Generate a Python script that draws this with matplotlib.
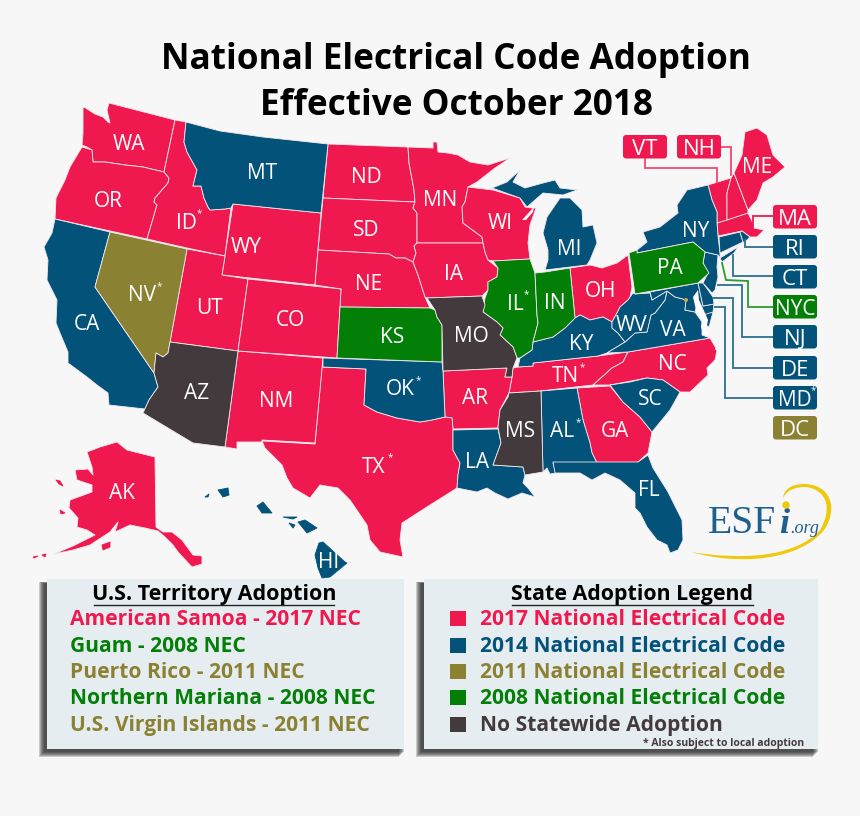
import matplotlib
matplotlib.use("Agg")
import matplotlib.pyplot as plt
from matplotlib.patches import Polygon, FancyBboxPatch, Rectangle, PathPatch, Circle
from matplotlib.path import Path

RED = "#f0194f"
BLUE = "#03527a"
OLIVE = "#8b8133"
GREEN = "#037f07"
DARK = "#433a3d"
BG = "#f7f7f7"
PANEL = "#e6edf1"

# outlines, in image pixels
WA = [(83,108),(84,107),(95,114),(103,117),(108,122),(110,123),(107,110),(109,103),(175,120),(164,172),(143,167),(125,165),(105,162),(93,162),(92,150),(87,147),(82,145),(83,133),(83,115)]
OR = [(82,147),(92,150),(93,162),(105,162),(125,165),(143,167),(164,172),(169,178),(168,183),(155,198),(154,202),(157,205),(147,239),(55,219),(56,198),(65,180),(70,167)]
ID = [(175,120),(186,122),(184,142),(187,152),(197,170),(193,186),(201,186),(204,198),(208,207),(210,210),(225,209),(231,208),(225,256),(187,248),(147,239),(157,205),(154,202),(155,198),(168,183),(169,178),(164,172)]
MT = [(186,122),(220,131),(263,137),(300,141),(328,144),(321,213),(233,204),(231,208),(225,209),(210,210),(208,207),(204,198),(201,186),(193,186),(197,170),(187,152),(184,142)]
ND = [(328,144),(408,147),(409,163),(414,190),(415,202),(323,198)]
SD = [(323,198),(415,202),(413,208),(417,213),(417,243),(414,246),(416,253),(413,262),(405,258),(396,258),(389,254),(318,250)]
WY = [(233,204),(321,213),(315,285),(222,275)]
NE = [(318,250),(389,254),(396,258),(405,258),(413,262),(418,275),(425,297),(430,308),(340,307),(341,289),(315,285)]
KS = [(340,307),(430,308),(435,310),(437,317),(442,325),(442,362),(337,358)]
MO = [(427,298),(482,296),(485,305),(483,312),(497,322),(503,328),(500,335),(513,347),(517,358),(513,368),(512,377),(505,377),(507,368),(443,371),(442,325),(437,317),(435,310)]
IA = [(414,246),(417,243),(483,243),(485,252),(488,260),(498,268),(497,277),(488,282),(488,290),(482,296),(427,298),(425,297),(418,275),(413,262),(416,253)]
MN = [(408,147),(433,148),(433,142),(437,142),(438,152),(448,153),(458,155),(470,162),(488,165),(510,158),(495,168),(477,182),(468,187),(465,202),(462,207),(463,223),(482,237),(483,243),(417,243),(417,213),(413,208),(415,202),(414,190),(409,163)]
WI = [(468,187),(493,190),(520,198),(525,207),(532,208),(536,208),(530,225),(528,243),(530,259),(493,261),(488,260),(485,252),(483,243),(482,237),(463,223),(462,207),(465,202)]
GREEN_BAY = [(534,207),(522,220),(526,220),(533,212)]
IL = [(493,261),(530,259),(535,273),(537,315),(538,323),(533,342),(532,350),(520,358),(517,358),(513,347),(500,335),(503,328),(497,322),(483,312),(485,298),(488,290),(488,282),(497,277),(498,268)]
IN = [(535,273),(545,272),(570,268),(575,318),(565,328),(553,337),(533,342),(538,323),(537,315)]
OH = [(570,268),(590,265),(602,268),(617,263),(628,255),(632,287),(630,297),(628,300),(620,307),(617,313),(612,322),(603,317),(590,320),(580,315),(575,318)]
MI_LOWER = [(545,270),(548,260),(548,250),(543,233),(547,217),(560,198),(570,198),(582,210),(583,227),(593,225),(597,243),(590,260),(587,265)]
MI_UPPER = [(492,188),(507,182),(520,170),(513,182),(525,188),(543,183),(555,180),(560,188),(577,190),(563,195),(543,193),(535,200),(527,207),(520,198)]
KY = [(533,342),(553,337),(565,328),(575,318),(580,315),(590,320),(603,317),(612,322),(612,328),(618,333),(625,342),(607,353),(598,356),(533,363),(533,366),(518,367),(520,358),(532,350)]
TN = [(518,367),(533,366),(533,363),(598,356),(628,352),(623,362),(612,368),(593,385),(540,391),(509,393),(512,377),(513,368)]
VA = [(625,342),(635,333),(647,332),(651,315),(655,313),(665,300),(667,291),(675,297),(683,299),(686,300),(685,310),(695,312),(702,322),(702,335),(710,338),(628,352),(607,353)]
VA_TIP = [(705,313),(713,312),(709,327),(706,325)]
WV = [(628,300),(633,293),(635,294),(650,293),(652,300),(667,291),(665,300),(655,313),(651,315),(647,332),(635,333),(625,342),(618,333),(612,328),(612,322),(617,313),(620,307)]
MD = [(650,292),(698,283),(703,306),(714,304),(713,312),(703,315),(697,305),(695,312),(685,310),(686,300),(683,299),(675,297),(667,291),(652,300)]
DE = [(698,283),(703,283),(713,297),(714,304),(703,306)]
NJ = [(705,252),(718,255),(717,267),(718,277),(715,290),(712,293),(703,283),(708,273),(703,263)]
PA = [(629,253),(637,250),(637,253),(693,242),(705,252),(703,263),(709,273),(698,283),(635,294)]
NY = [(637,250),(647,242),(643,232),(660,227),(678,213),(677,205),(687,190),(708,185),(712,200),(717,212),(717,223),(718,236),(720,253),(720,258),(718,255),(705,252),(693,242),(637,253)]
LONG_ISLAND = [(720,258),(738,247),(734,253),(722,262)]
CT = [(719,237),(740,232),(743,242),(720,253)]
RI = [(740,232),(742,231),(750,237),(745,242),(743,242)]
MA = [(717,223),(748,213),(753,223),(754,228),(764,230),(757,237),(750,237),(742,231),(718,236)]
VT = [(708,185),(731,178),(727,193),(727,220),(717,223),(717,212),(712,200)]
NH = [(731,178),(734,173),(748,210),(748,213),(727,220),(727,193)]
ME = [(734,173),(742,155),(745,132),(757,128),(767,135),(773,155),(785,167),(773,177),(763,183),(757,200),(748,210)]
NC = [(710,338),(717,350),(715,360),(707,368),(708,375),(690,392),(680,392),(663,380),(647,378),(610,385),(593,385),(612,368),(623,362),(628,352)]
SC = [(610,385),(630,382),(647,378),(663,380),(680,392),(670,410),(652,432),(640,417),(623,402)]
GA = [(577,388),(610,386),(623,402),(640,417),(652,432),(648,453),(638,462),(637,464),(597,463),(592,453),(590,443),(583,420)]
AL = [(541,391),(577,388),(583,420),(590,443),(592,453),(597,463),(553,463),(556,473),(550,474),(547,468),(543,472)]
MS = [(541,391),(509,393),(508,397),(500,410),(498,427),(501,443),(493,465),(523,467),(525,475),(543,472)]
LA = [(453,430),(498,429),(501,443),(493,465),(523,467),(525,475),(523,483),(528,488),(535,497),(522,493),(508,499),(495,493),(487,488),(477,492),(457,488),(458,475),(460,463),(453,450)]
AR = [(443,371),(507,368),(505,377),(512,377),(509,393),(500,410),(498,428),(453,429),(452,418),(445,417)]
OK = [(323,358),(442,362),(443,371),(445,417),(432,420),(420,422),(397,418),(377,412),(364,405),(366,369),(323,367)]
TX = [(322,367),(366,369),(364,405),(377,412),(397,418),(420,422),(432,420),(445,417),(452,418),(453,429),(453,450),(460,463),(458,475),(457,488),(430,505),(402,523),(400,540),(403,557),(380,552),(370,540),(367,525),(350,500),(338,488),(320,485),(310,498),(293,488),(287,478),(282,465),(265,448),(262,441),(315,444)]
NM = [(238,351),(323,358),(315,443),(262,440),(262,442),(237,442),(237,449),(225,447)]
AZ = [(170,342),(238,351),(225,447),(193,443),(143,413),(149,400),(158,387),(154,373),(156,353),(163,357),(168,353)]
NV = [(110,232),(187,249),(168,353),(163,357),(156,353),(154,373),(95,287)]
CA = [(55,219),(110,232),(95,287),(154,373),(158,387),(149,400),(145,409),(109,405),(108,393),(97,385),(87,377),(68,363),(68,352),(60,333),(56,323),(57,300),(47,280),(48,260),(44,247),(52,233)]
UT = [(187,249),(225,256),(222,275),(248,279),(238,351),(170,342)]
CO = [(248,279),(341,289),(340,307),(337,358),(238,351)]
FL = [(553,462),(638,462),(648,455),(653,468),(668,492),(682,520),(683,540),(678,550),(670,553),(667,545),(657,540),(647,527),(640,513),(635,508),(635,493),(620,480),(605,473),(592,480),(580,473),(555,473)]
AK = [(87,452),(100,447),(117,442),(127,450),(155,457),(156,527),(163,532),(172,532),(182,540),(193,555),(202,556),(202,564),(192,567),(178,552),(173,545),(165,537),(158,531),(145,528),(130,525),(115,532),(118,522),(110,532),(90,545),(73,550),(54,554),(73,546),(95,535),(87,530),(77,527),(78,518),(69,508),(70,500),(92,492),(92,485),(77,480),(75,470),(88,469),(93,475),(92,467)]
AK_KODIAK = [(102,545),(110,542),(110,547),(103,550)]
AK_LAWRENCE = [(56,480),(60,481),(63,486),(59,484)]
AK_NUNIVAK = [(60,510),(65,513),(61,514)]
AK_ALEUT1 = [(33,557),(38,556),(34,558)]
AK_ALEUT2 = [(42,555),(46,554),(45,557)]
HI_NIIHAU = [(205,497),(209,494),(208,497)]
HI_KAUAI = [(218,490),(228,488),(229,495),(223,497)]
HI_OAHU = [(257,506),(263,502),(272,513),(262,513)]
HI_MOLOKAI = [(283,517),(297,517),(293,519)]
HI_LANAI = [(289,523),(295,525),(293,528)]
HI_MAUI = [(298,522),(305,520),(317,528),(307,533)]
HI_BIG = [(319,543),(323,542),(345,562),(347,563),(330,577),(322,578),(318,568),(315,555)]
CHESAPEAKE = [(698,290),(699,300),(705,313),(708,320),(706,330),(708,335),(703,333),(701,327),(702,320),(696,310),(693,297)]
OUTER_BANKS_X = [716,720,718,710]
OUTER_BANKS_Y = [349,352,358,367]

RED_SHAPES = [WA, OR, ID, ND, SD, WY, NE, MN, IA, WI, OH, TN, MA, VT, NH, ME, NC, GA, AR, TX, NM, UT, CO, AK,
              AK_KODIAK, AK_LAWRENCE, AK_NUNIVAK, AK_ALEUT1, AK_ALEUT2]
BLUE_SHAPES = [MT, MI_LOWER, MI_UPPER, KY, VA, VA_TIP, WV, MD, DE, NJ, NY, LONG_ISLAND, CT, RI, SC, AL, LA, OK, CA, FL,
               HI_NIIHAU, HI_KAUAI, HI_OAHU, HI_MOLOKAI, HI_LANAI, HI_MAUI, HI_BIG]
OLIVE_SHAPES = [NV]
GREEN_SHAPES = [KS, IL, IN, PA]
DARK_SHAPES = [MO, MS, AZ]
ISLAND_SHAPES = [AK_KODIAK, AK_LAWRENCE, AK_NUNIVAK, AK_ALEUT1, AK_ALEUT2, HI_NIIHAU, HI_KAUAI, HI_OAHU, HI_MOLOKAI, HI_LANAI, HI_MAUI, HI_BIG]

STATE_NAMES = ["WA","OR","CA","NV","ID","MT","WY","UT","CO","AZ","NM","ND","SD","NE","KS","OK","TX","MN","IA","MO","AR","LA",
               "WI","IL","IN","MI","OH","KY","TN","MS","AL","GA","FL","SC","NC","VA","WV","PA","NY","ME","AK","HI"]
STATE_X = [129,108,87,142,186,262,246,210,290,197,276,366,366,369,392,400,374,440,454,471,475,477,
           500,515,555,569,600,581,565,520,562,615,649,650,672,673,632,670,696,757,122,329]
STATE_Y = [142,199,322,293,221,171,245,306,318,391,399,175,228,282,335,387,465,198,272,334,396,460,
           221,302,301,247,289,342,374,429,429,429,488,397,362,328,323,266,229,165,491,560]
STAR_X = [159,199,418,390,526,582,578]
STAR_Y = [287,214,381,458,295,368,423]

BOX_NAMES = ["VT","NH","MA","RI","CT","NYC","NJ","DE","MD","DC"]
BOX_LEFT = [623,677,773,773,773,773,773,773,773,773]
BOX_TOP = [135,135,205,235,265,295,325,356,386,416]
BOX_COLORS = [RED,RED,RED,BLUE,BLUE,GREEN,BLUE,BLUE,BLUE,OLIVE]
BOX_SIZES = [16,16,16,16,16,15,16,16,15,16]
LEADERS = [
    ([645,645,717,717], [158,168,168,182], "#f0476f"),
    ([721,731,731], [147,147,175], "#f0476f"),
    ([773,753,753], [216,216,227], "#f0194f"),
    ([745,745,773], [240,247,247], "#2c6f92"),
    ([733,733,773], [255,276,276], "#2c6f92"),
    ([722,726,748,748,773], [263,280,281,307,307], "#2f9a2f"),
    ([718,742,742,773], [285,285,337,337], "#2c6f92"),
    ([713,733,733,773], [298,298,368,368], "#2c6f92"),
    ([715,725,725,773], [307,307,398,398], "#2c6f92"),
]

TERRITORY_LINES = ["American Samoa - 2017 NEC","Guam - 2008 NEC","Puerto Rico - 2011 NEC","Northern Mariana - 2008 NEC","U.S. Virgin Islands - 2011 NEC"]
TERRITORY_COLORS = [RED,GREEN,OLIVE,GREEN,OLIVE]
LEGEND_LINES = ["2017 National Electrical Code","2014 National Electrical Code","2011 National Electrical Code","2008 National Electrical Code","No Statewide Adoption"]
LEGEND_COLORS = [RED,BLUE,OLIVE,GREEN,DARK]
LINE_BASE = [625,652,678,704,731]

FONT = "Open Sans"

fig = plt.figure(figsize=(8.6, 8.16), dpi=100, facecolor=BG)
ax = fig.add_axes([0, 0, 1, 1])
ax.set_xlim(0, 860)
ax.set_ylim(816, 0)
ax.axis("off")

# states
for shapes, color in [(RED_SHAPES, RED), (BLUE_SHAPES, BLUE), (OLIVE_SHAPES, OLIVE), (GREEN_SHAPES, GREEN), (DARK_SHAPES, DARK)]:
    for pts in shapes:
        edge = color if any(pts is s for s in ISLAND_SHAPES) else "#f3e9ee"
        ax.add_patch(Polygon(pts, closed=True, facecolor=color, edgecolor=edge, linewidth=0.6, joinstyle="round"))
for pts in [CHESAPEAKE, GREEN_BAY]:
    ax.add_patch(Polygon(pts, closed=True, facecolor="white", edgecolor="none"))
ax.plot(OUTER_BANKS_X, OUTER_BANKS_Y, color="white", lw=1.2)
ax.add_patch(Circle((686, 300), 1.3, color="#c9a94a"))

for name, x, y in zip(STATE_NAMES, STATE_X, STATE_Y):
    ax.text(x, y, name, color="white", fontsize=15, family=FONT, ha="center", va="center_baseline")
for x, y in zip(STAR_X, STAR_Y):
    ax.text(x, y, "*", color="white", fontsize=7, family=FONT, ha="center", va="center")

# callouts
for xs, ys, color in LEADERS:
    ax.plot(xs, ys, color=color, lw=1.3, solid_joinstyle="miter", zorder=2)
for name, left, top, color, size in zip(BOX_NAMES, BOX_LEFT, BOX_TOP, BOX_COLORS, BOX_SIZES):
    ax.add_patch(FancyBboxPatch((left + 2, top + 2), 40, 19.5, boxstyle="round,pad=2,rounding_size=3",
                                facecolor=color, edgecolor="none", zorder=3))
    ax.text(left + 22, top + 12, name, color="white", fontsize=size, family=FONT, ha="center", va="center_baseline", zorder=4)
ax.text(813, 391, "*", color="white", fontsize=7, family=FONT, ha="center", va="center", zorder=4)

# title
ax.text(456, 69, "National Electrical Code Adoption", fontsize=25.3, fontweight="bold", family=FONT, ha="center", color="black")
ax.text(456, 115, "Effective October 2018", fontsize=25.3, fontweight="bold", family=FONT, ha="center", color="black")

# panels with soft shadow
for left, right in [(47, 404), (424, 818)]:
    for i in range(6):
        ax.add_patch(Rectangle((left - 8 + i, 582 + i * 0.2), right - left + 3, 175 - i * 1.2, facecolor="#222222", alpha=0.22, edgecolor="none"))
    ax.add_patch(Rectangle((left, 579), right - left, 170, facecolor=PANEL, edgecolor="none"))

ax.text(214, 600, "U.S. Territory Adoption", fontsize=15.5, fontweight="bold", family=FONT, ha="center", color="black")
ax.plot([94, 334], [604.5, 604.5], color="#222222", lw=1)
for line, color, y in zip(TERRITORY_LINES, TERRITORY_COLORS, LINE_BASE):
    ax.text(70, y, line, color=color, fontsize=15.1, fontweight="bold", family=FONT)

ax.text(632, 600, "State Adoption Legend", fontsize=15.4, fontweight="bold", family=FONT, ha="center", color="black")
ax.plot([512, 753], [605, 605], color="#222222", lw=1)
for line, color, y in zip(LEGEND_LINES, LEGEND_COLORS, LINE_BASE):
    ax.add_patch(Rectangle((450, y - 14.5), 16, 15.5, facecolor=color, edgecolor="none"))
    ax.text(480, y, line, color=color, fontsize=15.1, fontweight="bold", family=FONT)
ax.text(804, 746, "* Also subject to local adoption", color=DARK, fontsize=7.5, fontweight="bold", family=FONT, ha="right")

# logo
swoosh = Path([(691,552),(740,566),(800,560),(824,530),(838,510),(832,485),(805,484),(790,484),(784,490),(783,498),
               (787,490),(795,487),(806,487),(828,490),(832,510),(820,530),(795,558),(740,560),(691,552)],
              [Path.MOVETO]+[Path.CURVE4]*18)
ax.add_patch(PathPatch(swoosh, facecolor="#eec90c", edgecolor="none"))
ax.text(708, 533, "ESF", color="#1f5f8f", fontsize=28.5, family="Liberation Serif")
ax.text(779, 533, "i", color="#1f5f8f", fontsize=26, family="Liberation Serif", style="italic", fontweight="bold")
ax.add_patch(Circle((786, 505), 3, color="#eec90c", zorder=5))
ax.text(790, 533, ".org", color="#1f5f8f", fontsize=13, family="Liberation Serif", style="italic")

fig.savefig("out.png", dpi=100, facecolor=BG)
